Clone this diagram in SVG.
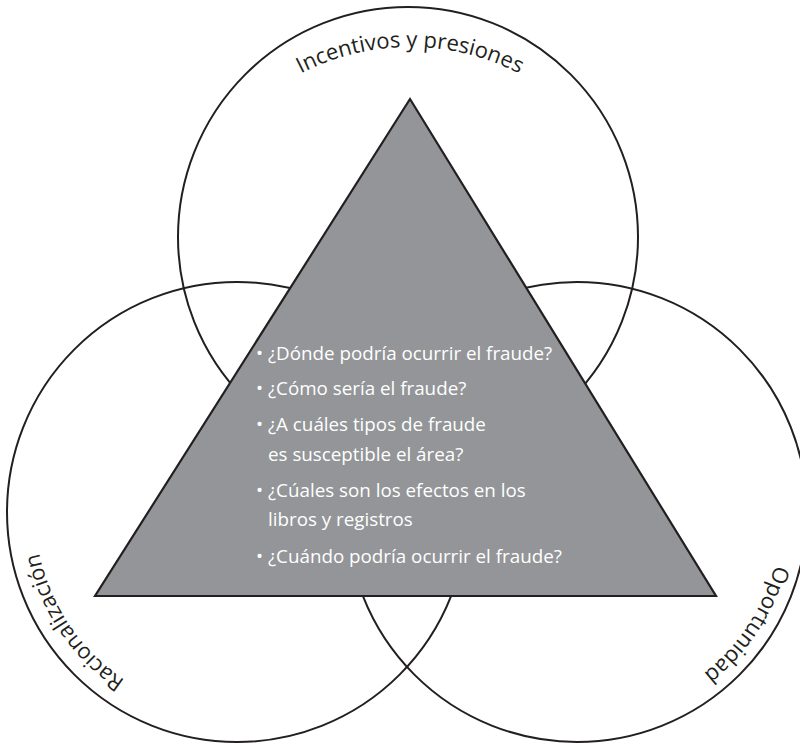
<svg xmlns="http://www.w3.org/2000/svg" width="800" height="744" viewBox="0 0 800 744">
  <style>
    .ring { fill: none; stroke: #231f20; stroke-width: 2; }
    .tri { fill: #939598; stroke: #231f20; stroke-width: 2.2; stroke-linejoin: miter; }
    .label { font-family: "Open Sans", "Noto Sans", sans-serif; font-size: 22px; fill: #231f20; }
    .q { font-family: "Open Sans", "Noto Sans", sans-serif; font-size: 18.8px; fill: #ffffff; }
  </style>
  <defs>
    <path id="arc-top" d="M172,285 A238,238 0 0 1 648,285"/>
    <path id="arc-left" d="M198.5,710.3 A202,202 0 0 1 38.7,473.5"/>
    <path id="arc-right" d="M777.9,471.1 A205,205 0 0 1 617.9,712.9"/>
  </defs>

  <rect width="800" height="744" fill="#ffffff"/>

  <!-- three overlapping circles -->
  <g id="circle-incentivos">
    <circle class="ring" cx="408" cy="237" r="230"/>
  </g>
  <g id="circle-racionalizacion">
    <circle class="ring" cx="237" cy="512" r="230"/>
  </g>
  <g id="circle-oportunidad">
    <circle class="ring" cx="577" cy="512" r="230"/>
  </g>

  <!-- curved circle labels -->
  <g id="label-incentivos">
    <text class="label" font-size="23.4"><textPath href="#arc-top" startOffset="50%" text-anchor="middle">Incentivos y presiones</textPath></text>
  </g>
  <g id="label-racionalizacion">
    <text class="label"><textPath href="#arc-left" startOffset="50%" text-anchor="middle">Racionalización</textPath></text>
  </g>
  <g id="label-oportunidad">
    <text class="label"><textPath href="#arc-right" startOffset="50%" text-anchor="middle">Oportunidad</textPath></text>
  </g>

  <!-- central triangle with questions -->
  <g id="triangle-fraude">
    <polygon class="tri" points="410,99 716,596 95,596"/>
    <g class="q">
      <text x="256" y="360">•</text>
      <text x="268" y="360">¿Dónde podría ocurrir el fraude?</text>
      <text x="256" y="395">•</text>
      <text x="268" y="395">¿Cómo sería el fraude?</text>
      <text x="256" y="431">•</text>
      <text x="268" y="431">¿A cuáles tipos de fraude</text>
      <text x="268" y="461">es susceptible el área?</text>
      <text x="256" y="497">•</text>
      <text x="268" y="497">¿Cúales son los efectos en los</text>
      <text x="268" y="526">libros y registros</text>
      <text x="256" y="563">•</text>
      <text x="268" y="563">¿Cuándo podría ocurrir el fraude?</text>
    </g>
  </g>
</svg>
